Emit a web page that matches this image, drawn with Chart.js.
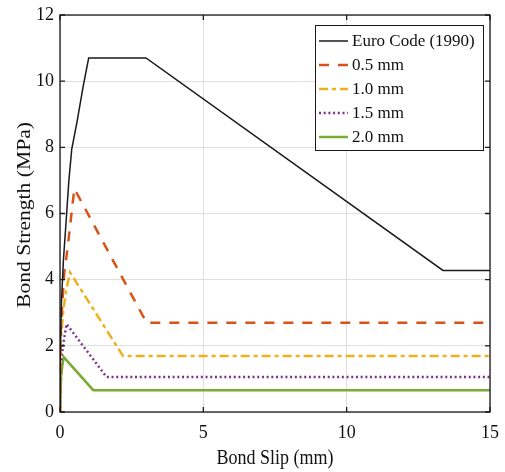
<!DOCTYPE html>
<html>
<head>
<meta charset="utf-8">
<script src="https://cdn.jsdelivr.net/npm/chart.js@4"></script>
<style>
  html, body { margin: 0; padding: 0; background: #fff; }
  #wrap { width: 505px; height: 472px; }
</style>
</head>
<body>
<div id="wrap"><canvas id="bond-chart" width="505" height="472"></canvas></div>
<script>
// values (slip in mm, stress in MPa)
var euroSlip   = [0, 0.01, 0.05, 0.12, 0.2, 0.31, 0.41, 0.6, 0.81, 1.0, 3.0, 13.36, 15];
var euroStress = [0, 1.7, 3.3, 4.6, 5.6, 7.0, 7.95, 8.8, 9.85, 10.7, 10.7, 4.28, 4.28];

var s05Slip   = [0, 0.02, 0.08, 0.15, 0.27, 0.5, 3.02, 15];
var s05Stress = [0, 2.3, 3.3, 4.2, 5.0, 6.75, 2.7, 2.7];

var s10Slip   = [0, 0.02, 0.12, 0.22, 0.35, 2.2, 15];
var s10Stress = [0, 2.1, 3.1, 3.7, 4.22, 1.69, 1.69];

var s15Slip   = [0, 0.01, 0.06, 0.12, 0.23, 1.62, 15];
var s15Stress = [0, 1.27, 1.7, 2.1, 2.66, 1.06, 1.06];

var s20Slip   = [0, 0.04, 0.08, 0.13, 1.16, 15];
var s20Stress = [0, 1.07, 1.4, 1.66, 0.66, 0.66];

var seriesNames = ['Euro Code (1990)', '0.5 mm', '1.0 mm', '1.5 mm', '2.0 mm'];
var xTicks = [0, 5, 10, 15];
var yTicks = [0, 2, 4, 6, 8, 10, 12];
var xTitle = 'Bond Slip (mm)';
var yTitle = 'Bond Strength (MPa)';

/* matlab 기본 색상 */
var black  = '#1a1a1a';
var orange = '#D95319';
var yellow = '#EDB120';
var purple = '#7E2F8E';
var green  = '#77AC30';

var serif = "'Liberation Serif', 'DejaVu Serif', serif";

function pts(xs, ys) {
  return xs.map(function (x, i) { return { x: x, y: ys[i] }; });
}

function line(label, xs, ys, color, width, dash) {
  return {
    label: label,
    data: pts(xs, ys),
    borderColor: color,
    backgroundColor: color,
    borderWidth: width,
    borderDash: dash,
    pointRadius: 0,
    tension: 0,
    fill: false
  };
}

// 박스 + 안쪽 눈금 + 축 제목 + 범례
var boxPlugin = {
  id: 'box',
  afterDraw: function (chart) {
    var ctx = chart.ctx, a = chart.chartArea;
    var xs = chart.scales.x, ys = chart.scales.y;
    ctx.save();
    ctx.strokeStyle = '#1a1a1a';
    ctx.lineWidth = 1.3;
    ctx.setLineDash([]);
    ctx.strokeRect(a.left, a.top, a.right - a.left, a.bottom - a.top);
    ctx.beginPath();
    xTicks.forEach(function (t) {
      var px = xs.getPixelForValue(t);
      ctx.moveTo(px, a.bottom); ctx.lineTo(px, a.bottom - 5);
      ctx.moveTo(px, a.top); ctx.lineTo(px, a.top + 5);
    });
    yTicks.forEach(function (t) {
      var py = ys.getPixelForValue(t);
      ctx.moveTo(a.left, py); ctx.lineTo(a.left + 5, py);
      ctx.moveTo(a.right, py); ctx.lineTo(a.right - 5, py);
    });
    ctx.stroke();

    // axis titles (the source picture is a bit stretched vertically)
    ctx.fillStyle = '#111';
    ctx.font = '18px ' + serif;
    ctx.textAlign = 'center';
    ctx.textBaseline = 'middle';
    ctx.save();
    ctx.translate((a.left + a.right) / 2, 459);
    ctx.scale(1, 1.15);
    ctx.fillText(xTitle, 0, 0);
    ctx.restore();
    ctx.save();
    ctx.translate(25, 215);
    ctx.rotate(-Math.PI / 2);
    ctx.scale(1.2, 1);
    ctx.fillText(yTitle, 0, 0);
    ctx.restore();

    // legend
    var lx = 315, ly = 25, lw = 168, lh = 125;
    ctx.fillStyle = '#fff';
    ctx.fillRect(lx, ly, lw, lh);
    ctx.lineWidth = 1;
    ctx.strokeStyle = '#1a1a1a';
    ctx.strokeRect(lx + 0.5, ly + 0.5, lw, lh);
    ctx.font = '17px ' + serif;
    ctx.textAlign = 'left';
    ctx.textBaseline = 'middle';
    chart.data.datasets.forEach(function (ds, i) {
      var cy = 41 + i * 24;
      ctx.beginPath();
      ctx.strokeStyle = ds.borderColor;
      ctx.lineWidth = ds.borderWidth;
      ctx.setLineDash(ds.borderDash || []);
      ctx.moveTo(319, cy); ctx.lineTo(348, cy);
      ctx.stroke();
      ctx.setLineDash([]);
      ctx.fillStyle = '#111';
      ctx.fillText(ds.label, 352, cy + 1);
    });
    ctx.restore();
  }
};

new Chart(document.getElementById('bond-chart'), {
  type: 'line',
  data: {
    datasets: [
      line(seriesNames[0], euroSlip, euroStress, black, 1.5, []),
      line(seriesNames[1], s05Slip, s05Stress, orange, 2.5, [10, 9]),
      line(seriesNames[2], s10Slip, s10Stress, yellow, 2.5, [9, 4, 4, 4]),
      line(seriesNames[3], s15Slip, s15Stress, purple, 2.5, [2, 2.7]),
      line(seriesNames[4], s20Slip, s20Stress, green, 2.5, [])
    ]
  },
  options: {
    responsive: false,
    animation: false,
    layout: { padding: { top: 15, right: 15, left: 0, bottom: 0 } },
    plugins: { legend: { display: false }, tooltip: { enabled: false } },
    scales: {
      x: {
        type: 'linear', min: 0, max: 15,
        afterBuildTicks: function (s) { s.ticks = xTicks.map(function (v) { return { value: v }; }); },
        afterFit: function (s) { s.height = 60; s.paddingLeft = 0; s.paddingRight = 0; },
        border: { display: false },
        grid: { color: '#dedede', lineWidth: 1, drawTicks: false },
        ticks: { padding: 10, color: '#111', font: { family: serif, size: 18 }, maxRotation: 0 }
      },
      y: {
        min: 0, max: 12,
        afterBuildTicks: function (s) { s.ticks = yTicks.map(function (v) { return { value: v }; }); },
        afterFit: function (s) { s.width = 60; s.paddingTop = 0; s.paddingBottom = 0; },
        border: { display: false },
        grid: { color: '#dedede', lineWidth: 1, drawTicks: false },
        ticks: { padding: 6, color: '#111', font: { family: serif, size: 18 } }
      }
    }
  },
  plugins: [boxPlugin]
});
</script>
</body>
</html>
